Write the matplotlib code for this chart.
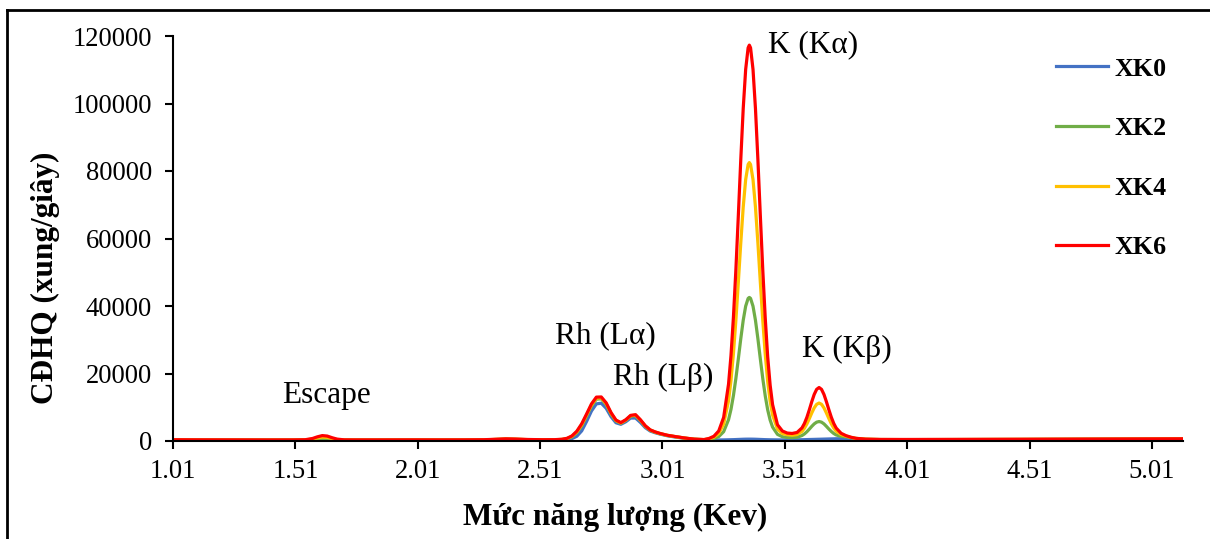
import matplotlib
matplotlib.use("Agg")
import matplotlib.pyplot as plt
from matplotlib.lines import Line2D

plt.rcParams['font.family'] = ['Liberation Serif', 'DejaVu Serif']

# ---------------- data ----------------
energy = [1.01, 1.10, 1.20, 1.30, 1.40, 1.50, 1.55, 1.58, 1.60, 1.62, 1.64, 1.66, 1.68, 1.71, 1.75, 1.85,
          2.00, 2.10, 2.20, 2.28, 2.33, 2.37, 2.41, 2.46, 2.52, 2.57,
          2.60, 2.62, 2.64, 2.66, 2.68, 2.70, 2.72, 2.74, 2.76, 2.78, 2.80, 2.82, 2.84, 2.86, 2.88, 2.90,
          2.92, 2.94, 2.96, 2.98, 3.00, 3.03, 3.06, 3.10, 3.14, 3.18,
          3.20, 3.22, 3.24, 3.26, 3.28, 3.29, 3.30, 3.31, 3.32, 3.33, 3.34, 3.35, 3.36, 3.365, 3.37, 3.38,
          3.39, 3.40, 3.41, 3.42, 3.43, 3.44, 3.45, 3.46, 3.48, 3.50, 3.52, 3.54,
          3.56, 3.58, 3.59, 3.60, 3.61, 3.62, 3.63, 3.64, 3.65, 3.66, 3.67, 3.68, 3.69, 3.70, 3.71, 3.72,
          3.74, 3.76, 3.78, 3.80, 3.84, 3.90, 4.00, 4.20, 4.50, 4.80, 5.00, 5.137]

xk0 = [260, 240, 235, 232, 230, 230, 235, 269, 315, 348, 336, 291, 252, 232, 230, 235,
       245, 240, 245, 270, 380, 470, 430, 330, 270, 250,
       300, 400, 700, 1400, 3000, 5800, 8900, 11000, 11200, 9700, 7200, 5400, 4950, 5700, 6800, 6800,
       5500, 3950, 2950, 2450, 2050, 1550, 1200, 800, 480, 330,
       300, 300, 310, 330, 360, 380, 400, 430, 460, 490, 520, 540, 550, 550, 550, 540,
       520, 490, 460, 430, 400, 380, 360, 350, 330, 320, 320, 330,
       350, 380, 400, 420, 440, 460, 480, 500, 520, 540, 560, 580, 600, 620, 640, 660,
       680, 650, 580, 500, 400, 340, 330, 360, 420, 480, 520, 560]

xk2 = [300, 280, 270, 265, 260, 262, 282, 422, 613, 753, 701, 513, 353, 269, 265, 270,
       280, 275, 280, 320, 450, 550, 500, 390, 330, 330,
       450, 680, 1250, 2450, 4500, 7400, 10400, 12400, 12500, 10800, 8000, 5950, 5250, 6100, 7350, 7500,
       6050, 4320, 3180, 2600, 2150, 1650, 1300, 860, 520, 400,
       498, 739, 1307, 2755, 6312, 9365, 13474, 18533, 24313, 30293, 35768, 39948, 42247, 42540, 42247, 39948,
       35768, 30293, 24273, 18463, 13364, 9225, 6202, 4120, 1962, 1268, 1033, 1003,
       1116, 1620, 2090, 2737, 3511, 4334, 5069, 5584, 5770, 5584, 5069, 4334, 3541, 2817, 2220, 1790,
       1366, 1246, 1007, 760, 520, 430, 410, 430, 480, 540, 580, 610]

xk4 = [330, 300, 290, 285, 280, 285, 320, 572, 916, 1167, 1074, 735, 447, 296, 290, 290,
       300, 295, 300, 340, 480, 590, 530, 410, 350, 370,
       480, 740, 1380, 2700, 4800, 7700, 10700, 12700, 12800, 11050, 8200, 6080, 5350, 6200, 7480, 7650,
       6180, 4420, 3250, 2650, 2200, 1680, 1320, 880, 530, 410,
       636, 1112, 2219, 5023, 11951, 17924, 25883, 35764, 47028, 58650, 69313, 77453, 81930, 82500, 81930, 77453,
       69313, 58650, 46928, 35614, 25683, 17624, 11751, 7709, 3513, 2214, 1855, 1709,
       1894, 2825, 3765, 5048, 6594, 8291, 9806, 10866, 11250, 10866, 9806, 8291, 6644, 5098, 3815, 2875,
       1894, 1445, 1065, 780, 530, 440, 420, 440, 490, 550, 590, 620]

xk6 = [380, 350, 340, 330, 320, 330, 377, 742, 1239, 1602, 1467, 978, 562, 343, 330, 330,
       340, 330, 340, 380, 520, 640, 580, 450, 380, 400,
       520, 800, 1500, 2900, 5100, 8000, 11000, 13000, 13050, 11300, 8400, 6200, 5450, 6300, 7600, 7800,
       6300, 4500, 3300, 2700, 2250, 1700, 1350, 900, 550, 430,
       750, 1400, 2980, 6990, 16850, 25330, 36700, 50740, 66750, 83340, 98520, 110110, 116490, 117300, 116490, 110110,
       98520, 83340, 66650, 50540, 36400, 24930, 16550, 10780, 4820, 2960, 2350, 2235,
       2534, 3874, 5186, 6986, 9212, 11631, 13791, 15303, 15850, 15303, 13791, 11631, 9262, 7036, 5186, 3824,
       2284, 1585, 1122, 800, 550, 460, 450, 470, 520, 580, 620, 650]

series_names = ["XK0", "XK2", "XK4", "XK6"]
series_values = [xk0, xk2, xk4, xk6]
series_colors = ["#4472C4", "#70AD47", "#FFC000", "#FF0000"]

x_ticks = [1.01, 1.51, 2.01, 2.51, 3.01, 3.51, 4.01, 4.51, 5.01]
x_tick_labels = ["1.01", "1.51", "2.01", "2.51", "3.01", "3.51", "4.01", "4.51", "5.01"]
y_ticks = [0, 20000, 40000, 60000, 80000, 100000, 120000]

peak_labels = ["Escape", "Rh (Lα)", "Rh (Lβ)", "K (Kα)", "K (Kβ)"]
peak_label_pos = [(1.639, 13600), (2.775, 31100), (3.012, 18700), (3.625, 117300), (3.764, 27000)]

# ---------------- figure ----------------
W, H = 1210, 539
fig = plt.figure(figsize=(W / 100, H / 100), dpi=100)
ax = fig.add_axes([173 / W, 1 - 441 / H, (1183 - 173) / W, (441 - 36) / H])

handles = []
for name, vals, col in zip(series_names, series_values, series_colors):
    h, = ax.plot(energy, vals, color=col, lw=2.3, label=name, solid_joinstyle='round')
    handles.append(h)

ax.set_xlim(1.01, 5.137)
ax.set_ylim(0, 120000)
ax.set_xticks(x_ticks)
ax.set_xticklabels(x_tick_labels)
ax.set_yticks(y_ticks)
ax.set_yticklabels([str(v) for v in y_ticks])

for s in ['top', 'right']:
    ax.spines[s].set_visible(False)
for s in ['left', 'bottom']:
    ax.spines[s].set_linewidth(1.5)
    ax.spines[s].set_color('black')

ax.tick_params(axis='both', direction='out', length=6, width=1.5, labelsize=19.2, colors='black')
ax.tick_params(axis='y', pad=9)
ax.tick_params(axis='x', pad=7)

for txt, (xx, yy) in zip(peak_labels, peak_label_pos):
    ax.text(xx, yy, txt, fontsize=22.5, ha='center', va='center')

fig.text(615 / W, 1 - 517 / H, "Mức năng lượng (Kev)", fontsize=22.5, fontweight='bold',
         ha='center', va='center')
fig.text(45 / W, 1 - 278 / H, "CĐHQ (xung/giây)", fontsize=22.5, fontweight='bold',
         ha='center', va='center', rotation=90)

leg = fig.legend(handles=handles, labels=series_names, loc='upper left',
                 bbox_to_anchor=(1033 / W, 1 - 34 / H), frameon=False,
                 prop={'weight': 'bold', 'size': 18.7}, handlelength=2.0,
                 handletextpad=0.25, labelspacing=1.4)

# outer frame (left and top edges visible)
fig.add_artist(Line2D([7 / W, 7 / W], [0, 1 - 10 / H], transform=fig.transFigure, color='black', lw=2))
fig.add_artist(Line2D([7 / W, 1], [1 - 10 / H, 1 - 10 / H], transform=fig.transFigure, color='black', lw=2))

fig.savefig("out.png", dpi=100)
